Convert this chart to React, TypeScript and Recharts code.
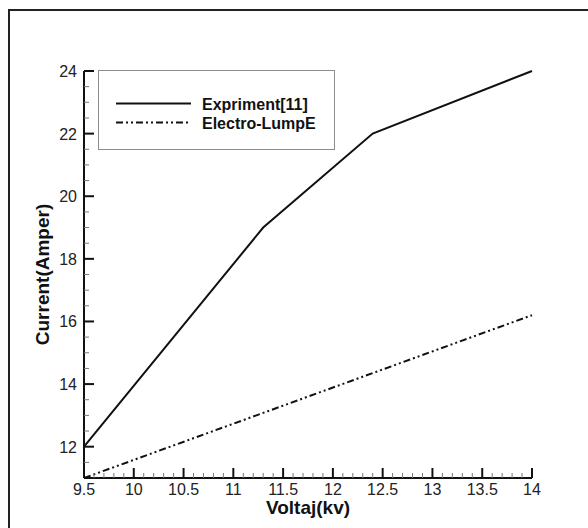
import React from 'react';
import { LineChart, Line, XAxis, YAxis, Legend } from 'recharts';

const voltExp = [9.5, 11.3, 12.4, 14];
const currentExp = [12, 19, 22, 24];
const voltLump = [9.5, 14];
const currentLump = [11, 16.2];

const xLabels = [9.5, 10, 10.5, 11, 11.5, 12, 12.5, 13, 13.5, 14];
const yLabels = [12, 14, 16, 18, 20, 22, 24];

const seriesNames = ['Expriment[11]', 'Electro-LumpE'];
const lumpDash = '7 3 2 3 2 3';
const font = '"Liberation Sans", Arial, sans-serif';

const expData = voltExp.map((x, i) => ({ x, y: currentExp[i] }));
const lumpData = voltLump.map((x, i) => ({ x, y: currentLump[i] }));

// minor ticks: 4 between x labels, 3 between y labels
const xTicks: number[] = [];
xLabels.forEach((v, i) => {
  if (i === xLabels.length - 1) {
    xTicks.push(v);
    return;
  }
  for (let k = 0; k < 5; k++) xTicks.push(Math.round((v + k * 0.1) * 10) / 10);
});
const yTicks: number[] = [];
for (let v = 11.5; v <= 24.001; v += 0.5) yTicks.push(Math.round(v * 10) / 10);

const isLabel = (list: number[], v: number) => list.some((l) => Math.abs(l - v) < 1e-6);

const XTick = (props: any) => {
  const { x, y, payload } = props;
  const major = isLabel(xLabels, payload.value);
  return (
    <g>
      <line
        x1={x}
        x2={x}
        y1={y}
        y2={y - (major ? 10 : 5)}
        stroke={major ? '#111' : '#777'}
        strokeWidth={major ? 2 : 1}
      />
      {major && (
        <text x={x} y={y + 17} textAnchor="middle" fontSize={16} fontFamily={font} fill="#222">
          {payload.value}
        </text>
      )}
    </g>
  );
};

const YTick = (props: any) => {
  const { x, y, payload } = props;
  const major = isLabel(yLabels, payload.value);
  return (
    <g>
      <line
        x1={x}
        x2={x + (major ? 10 : 5)}
        y1={y}
        y2={y}
        stroke={major ? '#111' : '#777'}
        strokeWidth={major ? 2 : 1}
      />
      {major && (
        <text x={x - 7} y={y + 6} textAnchor="end" fontSize={16} fontFamily={font} fill="#222">
          {payload.value}
        </text>
      )}
    </g>
  );
};

const LegendBox = () => (
  <div
    style={{
      width: 237,
      height: 80,
      boxSizing: 'border-box',
      border: '1.5px solid #8c8c8c',
      background: '#fff',
    }}
  >
    <svg width={234} height={77} style={{ display: 'block', marginLeft: -1.5, marginTop: -1.5 }}>
      <line x1={18} x2={93} y1={33.5} y2={33.5} stroke="#111" strokeWidth={2} />
      <text x={104} y={39.5} fontSize={16} fontWeight="bold" fontFamily={font} fill="#111">
        {seriesNames[0]}
      </text>
      <line x1={18} x2={93} y1={52.5} y2={52.5} stroke="#111" strokeWidth={2} strokeDasharray={lumpDash} />
      <text x={104} y={58.5} fontSize={16} fontWeight="bold" fontFamily={font} fill="#111">
        {seriesNames[1]}
      </text>
    </svg>
  </div>
);

export default function App() {
  return (
    <div
      style={{
        position: 'absolute',
        left: 0,
        top: 0,
        width: 588,
        height: 528,
        overflow: 'hidden',
        background: '#fff',
      }}
    >
      <div
        style={{
          position: 'absolute',
          left: 8,
          top: 9,
          width: 700,
          height: 700,
          borderTop: '2px solid #222',
          borderLeft: '2px solid #222',
        }}
      />
      <div style={{ position: 'absolute', left: 0, top: 0 }}>
        <LineChart width={588} height={528} margin={{ top: 71, right: 56, bottom: 0, left: 0 }}>
          <XAxis
            dataKey="x"
            type="number"
            domain={[9.5, 14]}
            ticks={xTicks}
            interval={0}
            height={50}
            tickSize={0}
            tickMargin={0}
            tickLine={false}
            tick={<XTick />}
            axisLine={{ stroke: '#111', strokeWidth: 2 }}
            label={{
              value: 'Voltaj(kv)',
              position: 'insideBottom',
              offset: 14,
              fontSize: 19,
              fontWeight: 'bold',
              fontFamily: font,
              fill: '#111',
            }}
          />
          <YAxis
            dataKey="y"
            type="number"
            domain={[11, 24]}
            ticks={yTicks}
            interval={0}
            width={84}
            tickSize={0}
            tickMargin={0}
            tickLine={false}
            tick={<YTick />}
            axisLine={{ stroke: '#111', strokeWidth: 2 }}
            label={{
              value: 'Current(Amper)',
              position: 'center',
              angle: -90,
              fontSize: 19,
              fontWeight: 'bold',
              fontFamily: font,
              fill: '#111',
            }}
          />
          <Legend
            layout="vertical"
            align="center"
            verticalAlign="middle"
            content={<LegendBox />}
            wrapperStyle={{ position: 'absolute', left: 98, top: 70, width: 237, height: 80 }}
          />
          <Line
            data={expData}
            dataKey="y"
            name={seriesNames[0]}
            type="linear"
            dot={false}
            stroke="#111"
            strokeWidth={2}
            isAnimationActive={false}
          />
          <Line
            data={lumpData}
            dataKey="y"
            name={seriesNames[1]}
            type="linear"
            dot={false}
            stroke="#111"
            strokeWidth={2}
            strokeDasharray={lumpDash}
            isAnimationActive={false}
          />
        </LineChart>
      </div>
    </div>
  );
}
